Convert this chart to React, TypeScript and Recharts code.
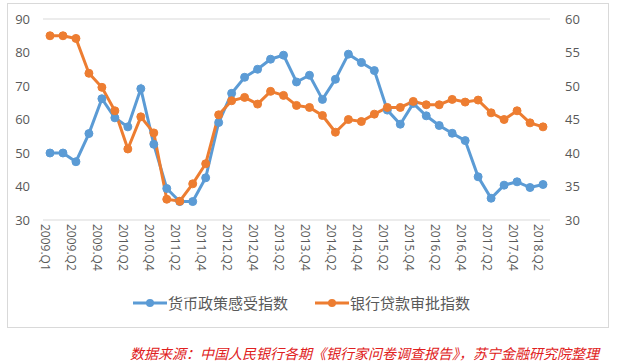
import { CartesianGrid, Legend, Line, LineChart, XAxis, YAxis } from "recharts";

const quarters = [
  "2009.Q1", "2009.Q1", "2009.Q2", "2009.Q3", "2009.Q4", "2010.Q1", "2010.Q2", "2010.Q3",
  "2010.Q4", "2011.Q1", "2011.Q2", "2011.Q3", "2011.Q4", "2012.Q1", "2012.Q2", "2012.Q3",
  "2012.Q4", "2013.Q1", "2013.Q2", "2013.Q3", "2013.Q4", "2014.Q1", "2014.Q2", "2014.Q3",
  "2014.Q4", "2015.Q1", "2015.Q2", "2015.Q3", "2015.Q4", "2016.Q1", "2016.Q2", "2016.Q3",
  "2016.Q4", "2017.Q1", "2017.Q2", "2017.Q3", "2017.Q4", "2018.Q1", "2018.Q2",
];

// 货币政策感受指数 (left axis)
const policyIndex = [
  50, 50, 47.4, 55.8, 66.2, 60.5, 57.8, 69.2, 52.6, 39.4, 35.5, 35.5, 42.6, 59.1, 67.8, 72.6,
  75, 78, 79.2, 71.2, 73.2, 66, 72, 79.5, 77, 74.6, 62.8, 58.6, 64.8, 61.1, 58.2, 55.9,
  53.7, 42.9, 36.5, 40.4, 41.4, 39.7, 40.6,
];

// 银行贷款审批指数 (right axis)
const loanIndex = [
  57.5, 57.5, 57.1, 51.9, 49.8, 46.3, 40.6, 45.4, 43, 33.1, 32.8, 35.4, 38.4, 45.7, 47.8, 48.3,
  47.3, 49.2, 48.6, 47.1, 46.8, 45.6, 43.1, 45, 44.7, 45.8, 46.8, 46.8, 47.7, 47.2, 47.2, 48,
  47.6, 47.9, 46, 45, 46.3, 44.5, 43.9,
];

const leftTicks = [30, 40, 50, 60, 70, 80, 90];
const rightTicks = [30, 35, 40, 45, 50, 55, 60];

const data = quarters.map((q, i) => ({
  q,
  policy: policyIndex[i],
  loan: loanIndex[i],
}));

const blue = "#5B9BD5";
const orange = "#ED7D31";
const font = "'Open Sans', 'Noto Sans CJK SC', sans-serif";

function LegendContent({ payload }: any) {
  return (
    <div style={{ display: "flex", justifyContent: "center", gap: 27, fontFamily: "'Noto Sans CJK SC', sans-serif", fontSize: 15, color: "#595959" }}>
      {(payload || []).map((p: any) => (
        <div key={p.value} style={{ display: "flex", alignItems: "center" }}>
          <svg width={34} height={12} style={{ marginRight: 1 }}>
            <line x1={0} y1={6} x2={34} y2={6} stroke={p.color} strokeWidth={3} />
            <circle cx={17} cy={6} r={4} fill={p.color} />
          </svg>
          <span>{p.value}</span>
        </div>
      ))}
    </div>
  );
}

export default function App() {
  return (
    <div style={{ position: "absolute", left: 0, top: 0, width: 619, height: 363, background: "#fff" }}>
      <div
        style={{
          position: "absolute",
          left: 7,
          top: 3,
          width: 600,
          height: 323,
          border: "1px solid #d9d9d9",
        }}
      />
      <div style={{ position: "absolute", left: 0, top: 0 }}>
        <LineChart
          width={619}
          height={328}
          data={data}
          margin={{ top: 19, right: 19, left: 3, bottom: 15 }}
          style={{ fontFamily: font }}
        >
          <CartesianGrid stroke="#d9d9d9" vertical={false} />
          <XAxis
            dataKey="q"
            interval={1}
            tickLine={false}
            axisLine={false}
            angle={90}
            textAnchor="start"
            height={72}
            tickMargin={2}
            padding={{ left: 7, right: 7 }}
            tick={{ fontSize: 12, fill: "#595959", dy: -4, dx: 0 }}
          />
          <YAxis
            yAxisId="left"
            domain={[30, 90]}
            ticks={leftTicks}
            width={40}
            tickLine={false}
            axisLine={false}
            tickMargin={7}
            tick={{ fontSize: 13, fill: "#595959" }}
          />
          <YAxis
            yAxisId="right"
            orientation="right"
            domain={[30, 60]}
            ticks={rightTicks}
            width={50}
            tickLine={false}
            axisLine={false}
            tickMargin={9}
            tick={{ fontSize: 13, fill: "#595959" }}
          />
          <Legend verticalAlign="bottom" content={<LegendContent />} />
          <Line
            yAxisId="left"
            dataKey="policy"
            name="货币政策感受指数"
            stroke={blue}
            strokeWidth={3}
            dot={{ r: 4, fill: blue, stroke: blue, strokeWidth: 1 }}
            isAnimationActive={false}
          />
          <Line
            yAxisId="right"
            dataKey="loan"
            name="银行贷款审批指数"
            stroke={orange}
            strokeWidth={3}
            dot={{ r: 4, fill: orange, stroke: orange, strokeWidth: 1 }}
            isAnimationActive={false}
          />
        </LineChart>
      </div>
      <div
        style={{
          position: "absolute",
          left: 130,
          top: 344,
          fontFamily: "'Noto Sans CJK SC', sans-serif",
          fontStyle: "italic",
          fontSize: 14,
          color: "#e02020",
          whiteSpace: "nowrap",
          lineHeight: "18px",
        }}
      >
        数据来源：中国人民银行各期《银行家问卷调查报告》，苏宁金融研究院整理
      </div>
    </div>
  );
}
